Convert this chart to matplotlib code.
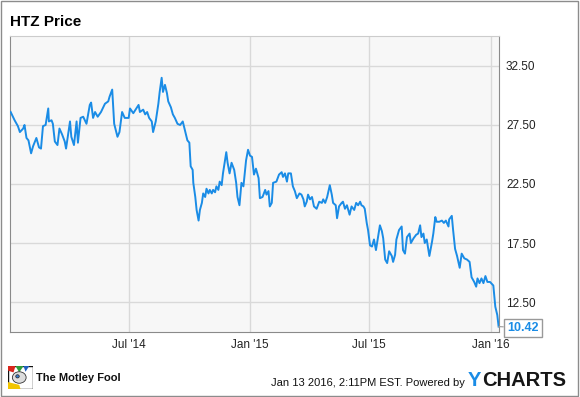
import matplotlib
matplotlib.use('Agg')
import matplotlib.pyplot as plt
import pandas as pd
from matplotlib.patches import Rectangle, Polygon, Ellipse

plt.rcParams['font.family'] = ['Liberation Sans', 'DejaVu Sans']

# HTZ closing price (days counted from 2 Jan 2014)
start = pd.Timestamp('2014-01-02')
days = [1, 7, 12, 15, 20, 22, 25, 28, 32, 35, 40, 44, 47, 50, 54, 58, 59, 63, 65, 68,
        72, 75, 79, 83, 85, 91, 93, 97, 101, 103, 107, 111, 116, 121, 123, 126, 129, 133, 138, 144,
        149, 151, 155, 158, 163, 166, 170, 174, 180, 182, 187, 195, 197, 202, 205, 208, 211, 215, 217, 221,
        225, 227, 230, 232, 235, 238, 240, 244, 247, 250, 254, 258, 262, 265, 269, 272, 274, 277, 278, 281,
        283, 286, 288, 291, 293, 296, 298, 301, 303, 306, 308, 311, 313, 316, 318, 321, 323, 328, 330, 333,
        336, 340, 343, 345, 348, 351, 354, 358, 361, 364, 367, 370, 373, 377, 379, 383, 387, 389, 392, 394,
        397, 399, 404, 408, 412, 414, 417, 420, 422, 426, 429, 432, 435, 439, 442, 445, 447, 450, 452, 455,
        458, 461, 465, 469, 473, 475, 478, 481, 485, 488, 490, 494, 496, 499, 503, 505, 508, 511, 515, 518,
        522, 525, 528, 531, 533, 536, 538, 541, 543, 546, 549, 552, 555, 561, 564, 566, 569, 572, 575, 579,
        581, 584, 586, 590, 594, 596, 599, 602, 606, 608, 612, 616, 619, 622, 624, 627, 629, 632, 636, 640,
        642, 645, 647, 651, 655, 658, 661, 665, 666, 670, 672, 675, 678, 682, 685, 689, 693, 697, 700, 704,
        707, 709, 712, 715, 718, 721, 724, 728, 733, 736, 739, 741]
prices = [28.6, 27.9, 27.4, 26.9, 27.2, 27.5, 26.4, 26.2, 25.1, 25.7, 26.4, 25.6, 25.5, 27.4, 27.5, 28.9, 27.8, 27.9, 27.6, 26.1,
          25.8, 27.2, 26.7, 26.1, 25.5, 27.8, 26.5, 25.8, 27.8, 26.0, 28.1, 28.2, 27.6, 29.2, 29.4, 28.1, 28.6, 28.2, 28.6, 29.3,
          29.5, 29.9, 30.5, 27.6, 26.5, 26.9, 28.6, 28.1, 28.1, 28.9, 28.5, 29.2, 28.6, 28.8, 28.4, 28.6, 28.1, 27.8, 26.9, 27.8,
          29.3, 30.3, 31.5, 30.3, 30.9, 30.2, 29.5, 29.0, 28.4, 28.1, 27.6, 27.5, 27.8, 27.1, 26.2, 26.0, 24.0, 23.7, 22.6, 21.4,
          20.3, 19.4, 20.3, 20.9, 21.7, 21.4, 22.1, 21.7, 22.0, 21.7, 22.0, 21.8, 22.3, 22.0, 22.7, 22.4, 23.4, 25.2, 24.3, 23.4,
          24.3, 23.7, 22.6, 21.4, 20.7, 22.6, 22.3, 24.5, 25.4, 24.9, 24.8, 23.3, 23.8, 23.0, 21.3, 21.4, 22.0, 21.6, 21.9, 20.6,
          20.9, 22.6, 22.7, 23.3, 23.5, 23.1, 23.4, 22.7, 23.4, 23.4, 22.3, 21.9, 21.3, 21.7, 21.6, 21.2, 20.6, 21.0, 21.6, 21.2,
          21.4, 20.6, 20.4, 21.0, 20.9, 21.2, 20.9, 21.4, 22.4, 21.6, 20.9, 20.7, 19.6, 20.6, 20.9, 21.0, 20.4, 20.7, 19.9, 20.6,
          20.3, 20.9, 20.7, 21.0, 20.7, 20.6, 20.4, 19.2, 18.6, 17.3, 17.2, 17.8, 16.9, 19.0, 18.5, 17.9, 16.1, 15.8, 16.8, 16.4,
          15.9, 16.5, 17.8, 18.6, 18.9, 16.9, 16.6, 18.0, 18.3, 17.5, 17.9, 18.2, 18.3, 19.0, 18.0, 18.3, 17.5, 17.8, 16.4, 17.6,
          18.3, 19.7, 19.3, 19.3, 19.4, 19.2, 19.4, 18.9, 19.5, 19.8, 18.6, 17.0, 16.4, 15.4, 16.6, 16.2, 16.1, 15.9, 14.6, 14.2,
          13.8, 14.5, 14.1, 14.5, 14.1, 14.7, 14.2, 14.2, 13.9, 12.1, 11.4, 10.42]
dates = start + pd.to_timedelta(days, unit='D')

x_ticks = pd.to_datetime(['2014-07-01', '2015-01-01', '2015-07-01', '2016-01-01'])
x_labels = ["Jul '14", "Jan '15", "Jul '15", "Jan '16"]
y_ticks = [12.5, 17.5, 22.5, 27.5, 32.5]
last_price = 10.42

blue = '#1a8ce6'
W, H = 580, 397

fig = plt.figure(figsize=(5.8, 3.97), dpi=100)
ax = fig.add_axes([10 / W, 65 / H, 489 / W, 296 / H])
ax.set_facecolor('#f7f7f7')
ax.plot(dates, prices, color=blue, lw=1.4, zorder=3)
ax.set_xlim(start, start + pd.Timedelta(days=741.6))
ax.set_ylim(9.96, 35.04)
ax.set_xticks(x_ticks)
ax.set_xticklabels(x_labels)
ax.set_yticks(y_ticks)
ax.set_yticklabels([f'{v:.2f}' for v in y_ticks])
ax.yaxis.tick_right()
ax.tick_params(length=0, labelsize=8.5, colors='#222222')
ax.tick_params(axis='y', pad=5)
ax.tick_params(axis='x', pad=5)
ax.grid(color='#d9d9d9', lw=1)
ax.set_axisbelow(True)
for side in ['left', 'right', 'bottom']:
    ax.spines[side].set_color('#8a8a8a')
ax.spines['top'].set_color('#cccccc')

# last value box
ax.annotate(f'{last_price:.2f}', xy=(dates[-1], prices[-1]), xytext=(6, -1),
            textcoords='offset points', ha='left', va='center', fontsize=9,
            fontweight='bold', color=blue, annotation_clip=False,
            bbox=dict(boxstyle='square,pad=0.25', fc='white', ec='#999999', lw=1),
            arrowprops=dict(arrowstyle='-', color='#999999', lw=0.8, shrinkA=0, shrinkB=0))

# title
fig.text(10 / W, 1 - 22 / H, 'HTZ Price', fontsize=11, fontweight='bold', va='center', ha='left')

# footer
fig.text(465 / W, 1 - 383 / H, 'Jan 13 2016, 2:11PM EST. Powered by', fontsize=8,
         ha='right', va='center', color='#111111')
fig.text(468 / W, 1 - 380 / H, 'Y', fontsize=14.5, fontweight='bold', color=blue, ha='left', va='center')
fig.text(482 / W, 1 - 380 / H, 'CHARTS', fontsize=14.5, fontweight='bold', color='#161616', ha='left', va='center')
fig.text(36 / W, 1 - 378 / H, 'The Motley Fool', fontsize=8, fontweight='bold', ha='left', va='center',
         color='#111111')

# motley fool logo
lax = fig.add_axes([8 / W, 8 / H, 25 / W, 23 / H])
lax.set_xlim(0, 1)
lax.set_ylim(0, 1)
lax.axis('off')
lax.add_patch(Rectangle((0, 0), 1, 1, fc='white', ec='#111111', lw=1))
lax.add_patch(Polygon([(0, 0), (0.5, 0), (0.45, 0.18), (0, 0.3)], fc='#f2c500', ec='none'))
lax.add_patch(Polygon([(0, 1), (0.3, 1), (0.22, 0.72), (0, 0.8)], fc='#d9261c', ec='none'))
lax.add_patch(Polygon([(0.3, 1), (0.62, 1), (0.45, 0.72)], fc='#2e9d3a', ec='none'))
lax.add_patch(Polygon([(0.62, 1), (0.85, 1), (0.7, 0.75)], fc='#1f5fbf', ec='none'))
lax.add_patch(Ellipse((0.45, 0.5), 0.55, 0.5, fc='#dddddd', ec='#333333', lw=0.6))
lax.add_patch(Ellipse((0.38, 0.55), 0.14, 0.14, fc='#3a7ccc', ec='#222222', lw=0.5))

# outer frame
fig.patches.append(Rectangle((0.5 / W, 1.5 / H), 577 / W, 395 / H, transform=fig.transFigure,
                             fill=False, ec='#8c8c8c', lw=1))

fig.savefig('out.png', dpi=100)
